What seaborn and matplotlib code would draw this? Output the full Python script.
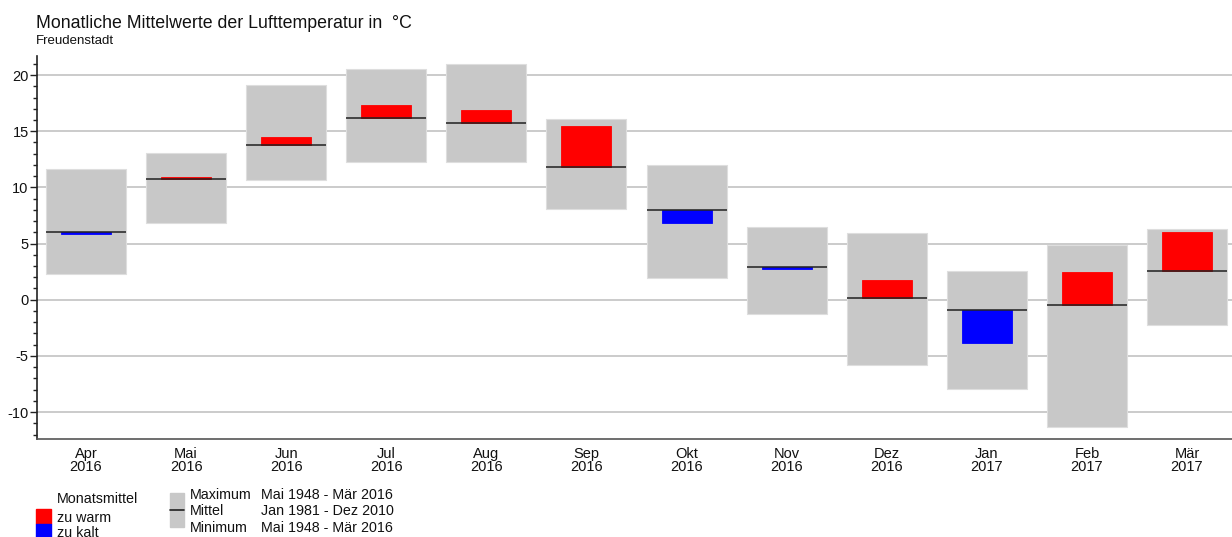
"""
Monatliche Mittelwerte der Lufttemperatur, Freudenstadt
Floating grey boxes (min..max), black line (long-term mean),
red/blue bar for the monthly deviation.
"""

import numpy as np
import pandas as pd
import matplotlib.pyplot as plt
import matplotlib.patches as mpatches
from matplotlib.ticker import MultipleLocator
import seaborn as sns

months = ["Apr", "Mai", "Jun", "Jul", "Aug", "Sep",
          "Okt", "Nov", "Dez", "Jan", "Feb", "Mär"]
years = ["2016"] * 9 + ["2017"] * 3

t_max = [11.65, 13.1, 19.15, 20.5, 21.0, 16.05, 11.97, 6.46, 5.98, 2.58, 4.86, 6.34]
t_min = [2.3, 6.87, 10.7, 12.3, 12.3, 8.1, 1.9, -1.27, -5.78, -7.97, -11.35, -2.22]
t_mean = [6.05, 10.72, 13.8, 16.15, 15.7, 11.86, 7.95, 2.93, 0.12, -0.89, -0.5, 2.55]
t_month = [5.82, 10.97, 14.47, 17.3, 16.9, 15.45, 6.8, 2.74, 1.75, -3.82, 2.46, 6.02]

sns.set_theme(style="white")
plt.rcParams['font.family'] = ['Liberation Sans', 'DejaVu Sans']
plt.rcParams['axes.unicode_minus'] = False

df = pd.DataFrame({
    "pos": np.arange(len(months)),
    "span": np.array(t_max) - np.array(t_min),
    "low": t_min,
    "mean": t_mean,
    "diff": np.array(t_month) - np.array(t_mean),
})

W, H = 1232, 537
fig = plt.figure(figsize=(12.32, 5.37), dpi=100)
ax = fig.add_axes([37 / W, 98 / H, (W - 37) / W, 383 / H])

# grey range boxes
ax.bar(df["pos"], df["span"], bottom=df["low"], width=0.8,
       color="#c8c8c8", edgecolor="#dedede", linewidth=0.8, zorder=2)

# monthly deviation bars
colors = np.where(df["diff"] >= 0, "#ff0000", "#0000ff")
ax.bar(df["pos"], df["diff"], bottom=df["mean"], width=0.5,
       color=colors, edgecolor=colors, linewidth=0.6, zorder=3)

# long-term mean
ax.hlines(df["mean"], df["pos"] - 0.4, df["pos"] + 0.4,
          color="#202020", linewidth=1.1, zorder=4)

ax.set_xlim(-0.49, 11.45)
ax.set_ylim(-12.4, 21.7)
ax.yaxis.set_major_locator(MultipleLocator(5))
ax.yaxis.set_minor_locator(MultipleLocator(1))
ax.yaxis.grid(True, color="#bdbdbd", linewidth=1.1, zorder=0)
ax.xaxis.grid(False)
ax.set_axisbelow(True)

ax.set_xticks(df["pos"])
ax.set_xticklabels([f"{m}\n{y}" for m, y in zip(months, years)],
                   fontsize=10.5, linespacing=0.85, color="#111111")
ax.tick_params(axis="x", length=0, pad=6)
ax.tick_params(axis="y", which="major", left=True, length=5, width=1,
               color="#222222", labelsize=10.5, pad=1, labelcolor="#111111")
ax.tick_params(axis="y", which="minor", left=True, length=3, width=1,
               color="#222222")

for side in ["top", "right"]:
    ax.spines[side].set_visible(False)
ax.spines["left"].set_color("#222222")
ax.spines["left"].set_linewidth(1.2)
ax.spines["bottom"].set_color("#555555")
ax.spines["bottom"].set_linewidth(1.2)

fig.text(36 / W, 1 - 28 / H, "Monatliche Mittelwerte der Lufttemperatur in  °C",
         fontsize=12.8, color="#111111")
fig.text(36 / W, 1 - 44 / H, "Freudenstadt", fontsize=9.5, color="#111111")

# legend
def box(x0, y0, w, h, color):
    fig.patches.append(mpatches.Rectangle(
        (x0 / W, 1 - (y0 + h) / H), w / W, h / H,
        transform=fig.transFigure, color=color, zorder=5))

box(36, 509, 15, 15, "#ff0000")
box(36, 524, 15, 15, "#0000ff")
box(170, 493, 14, 34, "#c8c8c8")
fig.lines.append(plt.Line2D([170 / W, 184 / W], [1 - 510 / H, 1 - 510 / H],
                            transform=fig.transFigure, color="#202020",
                            lw=1.2, zorder=10))

leg = dict(fontsize=10.3, color="#111111", va="center")
fig.text(57 / W, 1 - 499 / H, "Monatsmittel", **leg)
fig.text(57 / W, 1 - 518 / H, "zu warm", **leg)
fig.text(57 / W, 1 - 533 / H, "zu kalt", **leg)
fig.text(190 / W, 1 - 495 / H, "Maximum", **leg)
fig.text(190 / W, 1 - 511 / H, "Mittel", **leg)
fig.text(190 / W, 1 - 528 / H, "Minimum", **leg)
fig.text(261 / W, 1 - 495 / H, "Mai 1948 - Mär 2016", **leg)
fig.text(261 / W, 1 - 511 / H, "Jan 1981 - Dez 2010", **leg)
fig.text(261 / W, 1 - 528 / H, "Mai 1948 - Mär 2016", **leg)

fig.savefig("out.png", dpi=100)
